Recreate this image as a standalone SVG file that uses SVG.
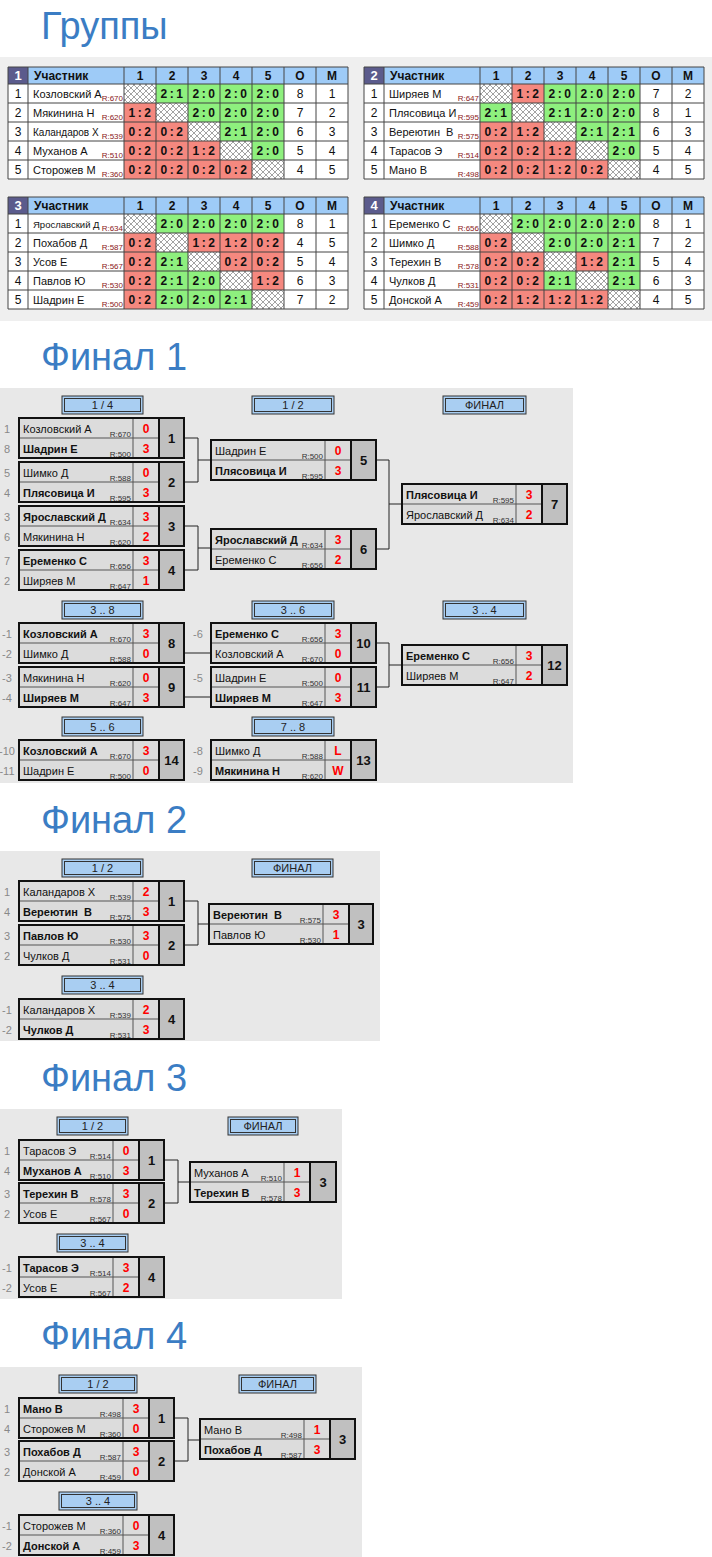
<svg xmlns="http://www.w3.org/2000/svg" width="712" height="1557" viewBox="0 0 712 1557">
<defs>
<pattern id="hatch" patternUnits="userSpaceOnUse" width="6" height="6">
<rect width="6" height="6" fill="#fff"/>
<path d="M0 0L6 6M6 0L0 6" stroke="#8c8c8c" stroke-width="0.8"/>
</pattern>
<style>
text{font-family:"Liberation Sans",Arial,sans-serif}
.ttl{font-size:38px;fill:#3b7dc4}
.g{fill:#8ef07e}
.r{fill:#f5887f}
.h{fill:url(#hatch)}
.grid{stroke:#444;stroke-width:1;fill:none}
.hd{font-size:12px;font-weight:bold;fill:#111}
.hn{font-size:13px;font-weight:bold;fill:#fff;text-anchor:middle}
.hc{font-size:12px;font-weight:bold;fill:#111;text-anchor:middle}
.tn{font-size:12px;fill:#111;text-anchor:middle}
.tx{font-size:11px;fill:#111}
.tr{font-size:8px;fill:#8b2020;text-anchor:end}
.gs{font-size:12px;font-weight:bold;fill:#111;text-anchor:middle;letter-spacing:2.5px}
.nm{fill:#dcdcdc}
.nb{fill:#c0c0c0}
.fr{fill:none;stroke:#111;stroke-width:2}
.ln{stroke:#555;stroke-width:1;fill:none}
.lb{stroke:#111;stroke-width:2;fill:none}
.nt{font-size:11px;fill:#111}
.b{font-weight:bold}
.rt{font-size:8px;fill:#333;text-anchor:end}
.sc{font-size:12px;font-weight:bold;fill:#f00;text-anchor:middle}
.mn{font-size:13px;font-weight:bold;fill:#111;text-anchor:middle}
.seed{font-size:11px;fill:#888;text-anchor:middle}
.lo{fill:#a9cef2;stroke:#333;stroke-width:1}
.li{fill:#a9cef2;stroke:#333;stroke-width:1}
.lt{font-size:11px;fill:#222;text-anchor:middle}
.con{fill:none;stroke:#222;stroke-width:1}
.pre{white-space:pre}
</style>
</defs>
<rect width="712" height="1557" fill="#fff"/>

<!-- Titles -->
<text class="ttl" x="41" y="39">Группы</text>
<text class="ttl" x="41" y="370">Финал 1</text>
<text class="ttl" x="41" y="833">Финал 2</text>
<text class="ttl" x="41" y="1091">Финал 3</text>
<text class="ttl" x="41" y="1349">Финал 4</text>

<!-- Panels -->
<rect x="0" y="57" width="712" height="264" fill="#efefef"/>
<rect x="0" y="388" width="573" height="395" fill="#e8e8e8"/>
<rect x="0" y="851" width="380" height="190" fill="#e8e8e8"/>
<rect x="0" y="1109" width="342" height="190" fill="#e8e8e8"/>
<rect x="0" y="1367" width="362" height="190" fill="#e8e8e8"/>

<!-- Group 1 -->
<g id="group-1" transform="translate(8,67)">
<rect width="340" height="112" fill="#fff"/>
<rect width="20" height="17" fill="#5b5b8c"/>
<rect x="20" width="320" height="17" fill="#9ecbf7"/>
<rect class="h" x="116" y="17" width="32" height="19"/><rect class="g" x="148" y="17" width="32" height="19"/><rect class="g" x="180" y="17" width="32" height="19"/><rect class="g" x="212" y="17" width="32" height="19"/><rect class="g" x="244" y="17" width="32" height="19"/>
<rect class="r" x="116" y="36" width="32" height="19"/><rect class="h" x="148" y="36" width="32" height="19"/><rect class="g" x="180" y="36" width="32" height="19"/><rect class="g" x="212" y="36" width="32" height="19"/><rect class="g" x="244" y="36" width="32" height="19"/>
<rect class="r" x="116" y="55" width="32" height="19"/><rect class="r" x="148" y="55" width="32" height="19"/><rect class="h" x="180" y="55" width="32" height="19"/><rect class="g" x="212" y="55" width="32" height="19"/><rect class="g" x="244" y="55" width="32" height="19"/>
<rect class="r" x="116" y="74" width="32" height="19"/><rect class="r" x="148" y="74" width="32" height="19"/><rect class="r" x="180" y="74" width="32" height="19"/><rect class="h" x="212" y="74" width="32" height="19"/><rect class="g" x="244" y="74" width="32" height="19"/>
<rect class="r" x="116" y="93" width="32" height="19"/><rect class="r" x="148" y="93" width="32" height="19"/><rect class="r" x="180" y="93" width="32" height="19"/><rect class="r" x="212" y="93" width="32" height="19"/><rect class="h" x="244" y="93" width="32" height="19"/>
<path class="grid" d="M0 0V112M20 0V112M116 0V112M148 0V112M180 0V112M212 0V112M244 0V112M276 0V112M308 0V112M340 0V112M0 0H340M0 17H340M0 36H340M0 55H340M0 74H340M0 93H340M0 112H340"/>
<text class="hn" x="10" y="13">1</text><text class="hd" x="26" y="13">Участник</text>
<text class="hc" x="132" y="13">1</text><text class="hc" x="164" y="13">2</text><text class="hc" x="196" y="13">3</text><text class="hc" x="228" y="13">4</text><text class="hc" x="260" y="13">5</text><text class="hc" x="292" y="13">О</text><text class="hc" x="324" y="13">М</text>
<text class="tn" x="10" y="31">1</text><text class="tx" x="25" y="31">Козловский А</text><text class="tr" x="115" y="34">R:670</text>
<text class="gs" x="165" y="31">2:1</text><text class="gs" x="197" y="31">2:0</text><text class="gs" x="229" y="31">2:0</text><text class="gs" x="261" y="31">2:0</text><text class="tn" x="292" y="31">8</text><text class="tn" x="324" y="31">1</text>
<text class="tn" x="10" y="50">2</text><text class="tx" x="25" y="50">Мякинина Н</text><text class="tr" x="115" y="53">R:620</text>
<text class="gs" x="133" y="50">1:2</text><text class="gs" x="197" y="50">2:0</text><text class="gs" x="229" y="50">2:0</text><text class="gs" x="261" y="50">2:0</text><text class="tn" x="292" y="50">7</text><text class="tn" x="324" y="50">2</text>
<text class="tn" x="10" y="69">3</text><text class="tx" x="25" y="69" style="font-size:10px">Каландаров Х</text><text class="tr" x="115" y="72">R:539</text>
<text class="gs" x="133" y="69">0:2</text><text class="gs" x="165" y="69">0:2</text><text class="gs" x="229" y="69">2:1</text><text class="gs" x="261" y="69">2:0</text><text class="tn" x="292" y="69">6</text><text class="tn" x="324" y="69">3</text>
<text class="tn" x="10" y="88">4</text><text class="tx" x="25" y="88">Муханов А</text><text class="tr" x="115" y="91">R:510</text>
<text class="gs" x="133" y="88">0:2</text><text class="gs" x="165" y="88">0:2</text><text class="gs" x="197" y="88">1:2</text><text class="gs" x="261" y="88">2:0</text><text class="tn" x="292" y="88">5</text><text class="tn" x="324" y="88">4</text>
<text class="tn" x="10" y="107">5</text><text class="tx" x="25" y="107">Сторожев М</text><text class="tr" x="115" y="110">R:360</text>
<text class="gs" x="133" y="107">0:2</text><text class="gs" x="165" y="107">0:2</text><text class="gs" x="197" y="107">0:2</text><text class="gs" x="229" y="107">0:2</text><text class="tn" x="292" y="107">4</text><text class="tn" x="324" y="107">5</text>
</g>

<!-- Group 2 -->
<g id="group-2" transform="translate(364,67)">
<rect width="340" height="112" fill="#fff"/>
<rect width="20" height="17" fill="#5b5b8c"/>
<rect x="20" width="320" height="17" fill="#9ecbf7"/>
<rect class="h" x="116" y="17" width="32" height="19"/><rect class="r" x="148" y="17" width="32" height="19"/><rect class="g" x="180" y="17" width="32" height="19"/><rect class="g" x="212" y="17" width="32" height="19"/><rect class="g" x="244" y="17" width="32" height="19"/>
<rect class="g" x="116" y="36" width="32" height="19"/><rect class="h" x="148" y="36" width="32" height="19"/><rect class="g" x="180" y="36" width="32" height="19"/><rect class="g" x="212" y="36" width="32" height="19"/><rect class="g" x="244" y="36" width="32" height="19"/>
<rect class="r" x="116" y="55" width="32" height="19"/><rect class="r" x="148" y="55" width="32" height="19"/><rect class="h" x="180" y="55" width="32" height="19"/><rect class="g" x="212" y="55" width="32" height="19"/><rect class="g" x="244" y="55" width="32" height="19"/>
<rect class="r" x="116" y="74" width="32" height="19"/><rect class="r" x="148" y="74" width="32" height="19"/><rect class="r" x="180" y="74" width="32" height="19"/><rect class="h" x="212" y="74" width="32" height="19"/><rect class="g" x="244" y="74" width="32" height="19"/>
<rect class="r" x="116" y="93" width="32" height="19"/><rect class="r" x="148" y="93" width="32" height="19"/><rect class="r" x="180" y="93" width="32" height="19"/><rect class="r" x="212" y="93" width="32" height="19"/><rect class="h" x="244" y="93" width="32" height="19"/>
<path class="grid" d="M0 0V112M20 0V112M116 0V112M148 0V112M180 0V112M212 0V112M244 0V112M276 0V112M308 0V112M340 0V112M0 0H340M0 17H340M0 36H340M0 55H340M0 74H340M0 93H340M0 112H340"/>
<text class="hn" x="10" y="13">2</text><text class="hd" x="26" y="13">Участник</text>
<text class="hc" x="132" y="13">1</text><text class="hc" x="164" y="13">2</text><text class="hc" x="196" y="13">3</text><text class="hc" x="228" y="13">4</text><text class="hc" x="260" y="13">5</text><text class="hc" x="292" y="13">О</text><text class="hc" x="324" y="13">М</text>
<text class="tn" x="10" y="31">1</text><text class="tx" x="25" y="31">Ширяев М</text><text class="tr" x="115" y="34">R:647</text>
<text class="gs" x="165" y="31">1:2</text><text class="gs" x="197" y="31">2:0</text><text class="gs" x="229" y="31">2:0</text><text class="gs" x="261" y="31">2:0</text><text class="tn" x="292" y="31">7</text><text class="tn" x="324" y="31">2</text>
<text class="tn" x="10" y="50">2</text><text class="tx" x="25" y="50">Плясовица И</text><text class="tr" x="115" y="53">R:595</text>
<text class="gs" x="133" y="50">2:1</text><text class="gs" x="197" y="50">2:1</text><text class="gs" x="229" y="50">2:0</text><text class="gs" x="261" y="50">2:0</text><text class="tn" x="292" y="50">8</text><text class="tn" x="324" y="50">1</text>
<text class="tn" x="10" y="69">3</text><text class="tx pre" x="25" y="69">Вереютин  В</text><text class="tr" x="115" y="72">R:575</text>
<text class="gs" x="133" y="69">0:2</text><text class="gs" x="165" y="69">1:2</text><text class="gs" x="229" y="69">2:1</text><text class="gs" x="261" y="69">2:1</text><text class="tn" x="292" y="69">6</text><text class="tn" x="324" y="69">3</text>
<text class="tn" x="10" y="88">4</text><text class="tx" x="25" y="88">Тарасов Э</text><text class="tr" x="115" y="91">R:514</text>
<text class="gs" x="133" y="88">0:2</text><text class="gs" x="165" y="88">0:2</text><text class="gs" x="197" y="88">1:2</text><text class="gs" x="261" y="88">2:0</text><text class="tn" x="292" y="88">5</text><text class="tn" x="324" y="88">4</text>
<text class="tn" x="10" y="107">5</text><text class="tx" x="25" y="107">Мано В</text><text class="tr" x="115" y="110">R:498</text>
<text class="gs" x="133" y="107">0:2</text><text class="gs" x="165" y="107">0:2</text><text class="gs" x="197" y="107">1:2</text><text class="gs" x="229" y="107">0:2</text><text class="tn" x="292" y="107">4</text><text class="tn" x="324" y="107">5</text>
</g>

<!-- Group 3 -->
<g id="group-3" transform="translate(8,197)">
<rect width="340" height="112" fill="#fff"/>
<rect width="20" height="17" fill="#5b5b8c"/>
<rect x="20" width="320" height="17" fill="#9ecbf7"/>
<rect class="h" x="116" y="17" width="32" height="19"/><rect class="g" x="148" y="17" width="32" height="19"/><rect class="g" x="180" y="17" width="32" height="19"/><rect class="g" x="212" y="17" width="32" height="19"/><rect class="g" x="244" y="17" width="32" height="19"/>
<rect class="r" x="116" y="36" width="32" height="19"/><rect class="h" x="148" y="36" width="32" height="19"/><rect class="r" x="180" y="36" width="32" height="19"/><rect class="r" x="212" y="36" width="32" height="19"/><rect class="r" x="244" y="36" width="32" height="19"/>
<rect class="r" x="116" y="55" width="32" height="19"/><rect class="g" x="148" y="55" width="32" height="19"/><rect class="h" x="180" y="55" width="32" height="19"/><rect class="r" x="212" y="55" width="32" height="19"/><rect class="r" x="244" y="55" width="32" height="19"/>
<rect class="r" x="116" y="74" width="32" height="19"/><rect class="g" x="148" y="74" width="32" height="19"/><rect class="g" x="180" y="74" width="32" height="19"/><rect class="h" x="212" y="74" width="32" height="19"/><rect class="r" x="244" y="74" width="32" height="19"/>
<rect class="r" x="116" y="93" width="32" height="19"/><rect class="g" x="148" y="93" width="32" height="19"/><rect class="g" x="180" y="93" width="32" height="19"/><rect class="g" x="212" y="93" width="32" height="19"/><rect class="h" x="244" y="93" width="32" height="19"/>
<path class="grid" d="M0 0V112M20 0V112M116 0V112M148 0V112M180 0V112M212 0V112M244 0V112M276 0V112M308 0V112M340 0V112M0 0H340M0 17H340M0 36H340M0 55H340M0 74H340M0 93H340M0 112H340"/>
<text class="hn" x="10" y="13">3</text><text class="hd" x="26" y="13">Участник</text>
<text class="hc" x="132" y="13">1</text><text class="hc" x="164" y="13">2</text><text class="hc" x="196" y="13">3</text><text class="hc" x="228" y="13">4</text><text class="hc" x="260" y="13">5</text><text class="hc" x="292" y="13">О</text><text class="hc" x="324" y="13">М</text>
<text class="tn" x="10" y="31">1</text><text class="tx" x="25" y="31" style="font-size:9.5px">Ярославский Д</text><text class="tr" x="115" y="34">R:634</text>
<text class="gs" x="165" y="31">2:0</text><text class="gs" x="197" y="31">2:0</text><text class="gs" x="229" y="31">2:0</text><text class="gs" x="261" y="31">2:0</text><text class="tn" x="292" y="31">8</text><text class="tn" x="324" y="31">1</text>
<text class="tn" x="10" y="50">2</text><text class="tx" x="25" y="50">Похабов Д</text><text class="tr" x="115" y="53">R:587</text>
<text class="gs" x="133" y="50">0:2</text><text class="gs" x="197" y="50">1:2</text><text class="gs" x="229" y="50">1:2</text><text class="gs" x="261" y="50">0:2</text><text class="tn" x="292" y="50">4</text><text class="tn" x="324" y="50">5</text>
<text class="tn" x="10" y="69">3</text><text class="tx" x="25" y="69">Усов Е</text><text class="tr" x="115" y="72">R:567</text>
<text class="gs" x="133" y="69">0:2</text><text class="gs" x="165" y="69">2:1</text><text class="gs" x="229" y="69">0:2</text><text class="gs" x="261" y="69">0:2</text><text class="tn" x="292" y="69">5</text><text class="tn" x="324" y="69">4</text>
<text class="tn" x="10" y="88">4</text><text class="tx" x="25" y="88">Павлов Ю</text><text class="tr" x="115" y="91">R:530</text>
<text class="gs" x="133" y="88">0:2</text><text class="gs" x="165" y="88">2:1</text><text class="gs" x="197" y="88">2:0</text><text class="gs" x="261" y="88">1:2</text><text class="tn" x="292" y="88">6</text><text class="tn" x="324" y="88">3</text>
<text class="tn" x="10" y="107">5</text><text class="tx" x="25" y="107">Шадрин Е</text><text class="tr" x="115" y="110">R:500</text>
<text class="gs" x="133" y="107">0:2</text><text class="gs" x="165" y="107">2:0</text><text class="gs" x="197" y="107">2:0</text><text class="gs" x="229" y="107">2:1</text><text class="tn" x="292" y="107">7</text><text class="tn" x="324" y="107">2</text>
</g>

<!-- Group 4 -->
<g id="group-4" transform="translate(364,197)">
<rect width="340" height="112" fill="#fff"/>
<rect width="20" height="17" fill="#5b5b8c"/>
<rect x="20" width="320" height="17" fill="#9ecbf7"/>
<rect class="h" x="116" y="17" width="32" height="19"/><rect class="g" x="148" y="17" width="32" height="19"/><rect class="g" x="180" y="17" width="32" height="19"/><rect class="g" x="212" y="17" width="32" height="19"/><rect class="g" x="244" y="17" width="32" height="19"/>
<rect class="r" x="116" y="36" width="32" height="19"/><rect class="h" x="148" y="36" width="32" height="19"/><rect class="g" x="180" y="36" width="32" height="19"/><rect class="g" x="212" y="36" width="32" height="19"/><rect class="g" x="244" y="36" width="32" height="19"/>
<rect class="r" x="116" y="55" width="32" height="19"/><rect class="r" x="148" y="55" width="32" height="19"/><rect class="h" x="180" y="55" width="32" height="19"/><rect class="r" x="212" y="55" width="32" height="19"/><rect class="g" x="244" y="55" width="32" height="19"/>
<rect class="r" x="116" y="74" width="32" height="19"/><rect class="r" x="148" y="74" width="32" height="19"/><rect class="g" x="180" y="74" width="32" height="19"/><rect class="h" x="212" y="74" width="32" height="19"/><rect class="g" x="244" y="74" width="32" height="19"/>
<rect class="r" x="116" y="93" width="32" height="19"/><rect class="r" x="148" y="93" width="32" height="19"/><rect class="r" x="180" y="93" width="32" height="19"/><rect class="r" x="212" y="93" width="32" height="19"/><rect class="h" x="244" y="93" width="32" height="19"/>
<path class="grid" d="M0 0V112M20 0V112M116 0V112M148 0V112M180 0V112M212 0V112M244 0V112M276 0V112M308 0V112M340 0V112M0 0H340M0 17H340M0 36H340M0 55H340M0 74H340M0 93H340M0 112H340"/>
<text class="hn" x="10" y="13">4</text><text class="hd" x="26" y="13">Участник</text>
<text class="hc" x="132" y="13">1</text><text class="hc" x="164" y="13">2</text><text class="hc" x="196" y="13">3</text><text class="hc" x="228" y="13">4</text><text class="hc" x="260" y="13">5</text><text class="hc" x="292" y="13">О</text><text class="hc" x="324" y="13">М</text>
<text class="tn" x="10" y="31">1</text><text class="tx" x="25" y="31">Еременко С</text><text class="tr" x="115" y="34">R:656</text>
<text class="gs" x="165" y="31">2:0</text><text class="gs" x="197" y="31">2:0</text><text class="gs" x="229" y="31">2:0</text><text class="gs" x="261" y="31">2:0</text><text class="tn" x="292" y="31">8</text><text class="tn" x="324" y="31">1</text>
<text class="tn" x="10" y="50">2</text><text class="tx" x="25" y="50">Шимко Д</text><text class="tr" x="115" y="53">R:588</text>
<text class="gs" x="133" y="50">0:2</text><text class="gs" x="197" y="50">2:0</text><text class="gs" x="229" y="50">2:0</text><text class="gs" x="261" y="50">2:1</text><text class="tn" x="292" y="50">7</text><text class="tn" x="324" y="50">2</text>
<text class="tn" x="10" y="69">3</text><text class="tx" x="25" y="69">Терехин В</text><text class="tr" x="115" y="72">R:578</text>
<text class="gs" x="133" y="69">0:2</text><text class="gs" x="165" y="69">0:2</text><text class="gs" x="229" y="69">1:2</text><text class="gs" x="261" y="69">2:1</text><text class="tn" x="292" y="69">5</text><text class="tn" x="324" y="69">4</text>
<text class="tn" x="10" y="88">4</text><text class="tx" x="25" y="88">Чулков Д</text><text class="tr" x="115" y="91">R:531</text>
<text class="gs" x="133" y="88">0:2</text><text class="gs" x="165" y="88">0:2</text><text class="gs" x="197" y="88">2:1</text><text class="gs" x="261" y="88">2:1</text><text class="tn" x="292" y="88">6</text><text class="tn" x="324" y="88">3</text>
<text class="tn" x="10" y="107">5</text><text class="tx" x="25" y="107">Донской А</text><text class="tr" x="115" y="110">R:459</text>
<text class="gs" x="133" y="107">0:2</text><text class="gs" x="165" y="107">1:2</text><text class="gs" x="197" y="107">1:2</text><text class="gs" x="229" y="107">1:2</text><text class="tn" x="292" y="107">4</text><text class="tn" x="324" y="107">5</text>
</g>

<!-- Connectors -->
<g id="connectors">
<path class="con" d="M184 438H198V482H184M198 460H211"/>
<path class="con" d="M184 526H198V570H184M198 548H211"/>
<path class="con" d="M376 460H389V549H376M389 504H402"/>
<path class="con" d="M184 653H211"/>
<path class="con" d="M184 697H211"/>
<path class="con" d="M376 643H389V687H376M389 665H402"/>
<path class="con" d="M184 901H198V945H184M198 924H209"/>
<path class="con" d="M164 1160H178V1203H164M178 1182H190"/>
<path class="con" d="M174 1418H188V1461H174M188 1440H200"/>
</g>

<!-- Round labels -->
<g id="labels">
<g transform="translate(62,396)"><rect class="lo" width="81" height="18"/><rect class="li" x="2.5" y="2.5" width="76" height="13"/><text class="lt" x="40.5" y="13">1 / 4</text></g>
<g transform="translate(252,396)"><rect class="lo" width="82" height="18"/><rect class="li" x="2.5" y="2.5" width="77" height="13"/><text class="lt" x="41" y="13">1 / 2</text></g>
<g transform="translate(443,396)"><rect class="lo" width="83" height="18"/><rect class="li" x="2.5" y="2.5" width="78" height="13"/><text class="lt" x="41.5" y="13">ФИНАЛ</text></g>
<g transform="translate(62,601)"><rect class="lo" width="81" height="18"/><rect class="li" x="2.5" y="2.5" width="76" height="13"/><text class="lt" x="40.5" y="13">3 .. 8</text></g>
<g transform="translate(252,601)"><rect class="lo" width="82" height="18"/><rect class="li" x="2.5" y="2.5" width="77" height="13"/><text class="lt" x="41" y="13">3 .. 6</text></g>
<g transform="translate(443,601)"><rect class="lo" width="83" height="18"/><rect class="li" x="2.5" y="2.5" width="78" height="13"/><text class="lt" x="41.5" y="13">3 .. 4</text></g>
<g transform="translate(62,717)"><rect class="lo" width="81" height="19"/><rect class="li" x="2.5" y="2.5" width="76" height="14"/><text class="lt" x="40.5" y="13.5">5 .. 6</text></g>
<g transform="translate(252,717)"><rect class="lo" width="82" height="19"/><rect class="li" x="2.5" y="2.5" width="77" height="14"/><text class="lt" x="41" y="13.5">7 .. 8</text></g>
<g transform="translate(62,859)"><rect class="lo" width="81" height="18"/><rect class="li" x="2.5" y="2.5" width="76" height="13"/><text class="lt" x="40.5" y="13">1 / 2</text></g>
<g transform="translate(252,859)"><rect class="lo" width="81" height="18"/><rect class="li" x="2.5" y="2.5" width="76" height="13"/><text class="lt" x="40.5" y="13">ФИНАЛ</text></g>
<g transform="translate(62,976)"><rect class="lo" width="81" height="18"/><rect class="li" x="2.5" y="2.5" width="76" height="13"/><text class="lt" x="40.5" y="13">3 .. 4</text></g>
<g transform="translate(57,1117)"><rect class="lo" width="71" height="18"/><rect class="li" x="2.5" y="2.5" width="66" height="13"/><text class="lt" x="35.5" y="13">1 / 2</text></g>
<g transform="translate(228,1117)"><rect class="lo" width="70" height="18"/><rect class="li" x="2.5" y="2.5" width="65" height="13"/><text class="lt" x="35" y="13">ФИНАЛ</text></g>
<g transform="translate(57,1234)"><rect class="lo" width="71" height="18"/><rect class="li" x="2.5" y="2.5" width="66" height="13"/><text class="lt" x="35.5" y="13">3 .. 4</text></g>
<g transform="translate(59,1375)"><rect class="lo" width="78" height="18"/><rect class="li" x="2.5" y="2.5" width="73" height="13"/><text class="lt" x="39" y="13">1 / 2</text></g>
<g transform="translate(239,1375)"><rect class="lo" width="77" height="18"/><rect class="li" x="2.5" y="2.5" width="72" height="13"/><text class="lt" x="38.5" y="13">ФИНАЛ</text></g>
<g transform="translate(59,1492)"><rect class="lo" width="78" height="18"/><rect class="li" x="2.5" y="2.5" width="73" height="13"/><text class="lt" x="39" y="13">3 .. 4</text></g>
</g>

<!-- Seeds -->
<g id="seeds">
<text class="seed" x="7" y="433">1</text><text class="seed" x="7" y="453">8</text>
<text class="seed" x="7" y="477">5</text><text class="seed" x="7" y="497">4</text>
<text class="seed" x="7" y="521">3</text><text class="seed" x="7" y="541">6</text>
<text class="seed" x="7" y="565">7</text><text class="seed" x="7" y="585">2</text>
<text class="seed" x="7" y="638">-1</text><text class="seed" x="7" y="658">-2</text>
<text class="seed" x="7" y="682">-3</text><text class="seed" x="7" y="702">-4</text>
<text class="seed" x="7" y="755">-10</text><text class="seed" x="7" y="775">-11</text>
<text class="seed" x="198" y="638">-6</text><text class="seed" x="198" y="682">-5</text>
<text class="seed" x="198" y="755">-8</text><text class="seed" x="198" y="775">-9</text>
<text class="seed" x="7" y="896">1</text><text class="seed" x="7" y="916">4</text>
<text class="seed" x="7" y="940">3</text><text class="seed" x="7" y="960">2</text>
<text class="seed" x="7" y="1014">-1</text><text class="seed" x="7" y="1034">-2</text>
<text class="seed" x="7" y="1155">1</text><text class="seed" x="7" y="1175">4</text>
<text class="seed" x="7" y="1198">3</text><text class="seed" x="7" y="1218">2</text>
<text class="seed" x="7" y="1272">-1</text><text class="seed" x="7" y="1292">-2</text>
<text class="seed" x="7" y="1413">1</text><text class="seed" x="7" y="1433">4</text>
<text class="seed" x="7" y="1456">3</text><text class="seed" x="7" y="1476">2</text>
<text class="seed" x="7" y="1530">-1</text><text class="seed" x="7" y="1550">-2</text>
</g>

<!-- Final 1 matches -->
<g id="f1-m1" transform="translate(19,418)">
<rect class="nm" width="140" height="40"/><rect class="nb" x="140" width="25" height="40"/><path class="ln" d="M0 20H140M114 0V40"/><path class="lb" d="M140 0V40"/><rect class="fr" width="165" height="40"/>
<text class="nt" x="4" y="15">Козловский А</text><text class="rt" x="112" y="19">R:670</text><text class="sc" x="127" y="15">0</text>
<text class="nt b" x="4" y="35">Шадрин Е</text><text class="rt" x="112" y="39">R:500</text><text class="sc" x="127" y="35">3</text>
<text class="mn" x="152.5" y="25">1</text></g>
<g id="f1-m2" transform="translate(19,462)">
<rect class="nm" width="140" height="40"/><rect class="nb" x="140" width="25" height="40"/><path class="ln" d="M0 20H140M114 0V40"/><path class="lb" d="M140 0V40"/><rect class="fr" width="165" height="40"/>
<text class="nt" x="4" y="15">Шимко Д</text><text class="rt" x="112" y="19">R:588</text><text class="sc" x="127" y="15">0</text>
<text class="nt b" x="4" y="35">Плясовица И</text><text class="rt" x="112" y="39">R:595</text><text class="sc" x="127" y="35">3</text>
<text class="mn" x="152.5" y="25">2</text></g>
<g id="f1-m3" transform="translate(19,506)">
<rect class="nm" width="140" height="40"/><rect class="nb" x="140" width="25" height="40"/><path class="ln" d="M0 20H140M114 0V40"/><path class="lb" d="M140 0V40"/><rect class="fr" width="165" height="40"/>
<text class="nt b" x="4" y="15">Ярославский Д</text><text class="rt" x="112" y="19">R:634</text><text class="sc" x="127" y="15">3</text>
<text class="nt" x="4" y="35">Мякинина Н</text><text class="rt" x="112" y="39">R:620</text><text class="sc" x="127" y="35">2</text>
<text class="mn" x="152.5" y="25">3</text></g>
<g id="f1-m4" transform="translate(19,550)">
<rect class="nm" width="140" height="40"/><rect class="nb" x="140" width="25" height="40"/><path class="ln" d="M0 20H140M114 0V40"/><path class="lb" d="M140 0V40"/><rect class="fr" width="165" height="40"/>
<text class="nt b" x="4" y="15">Еременко С</text><text class="rt" x="112" y="19">R:656</text><text class="sc" x="127" y="15">3</text>
<text class="nt" x="4" y="35">Ширяев М</text><text class="rt" x="112" y="39">R:647</text><text class="sc" x="127" y="35">1</text>
<text class="mn" x="152.5" y="25">4</text></g>
<g id="f1-m5" transform="translate(211,440)">
<rect class="nm" width="140" height="40"/><rect class="nb" x="140" width="25" height="40"/><path class="ln" d="M0 20H140M114 0V40"/><path class="lb" d="M140 0V40"/><rect class="fr" width="165" height="40"/>
<text class="nt" x="4" y="15">Шадрин Е</text><text class="rt" x="112" y="19">R:500</text><text class="sc" x="127" y="15">0</text>
<text class="nt b" x="4" y="35">Плясовица И</text><text class="rt" x="112" y="39">R:595</text><text class="sc" x="127" y="35">3</text>
<text class="mn" x="152.5" y="25">5</text></g>
<g id="f1-m6" transform="translate(211,529)">
<rect class="nm" width="140" height="40"/><rect class="nb" x="140" width="25" height="40"/><path class="ln" d="M0 20H140M114 0V40"/><path class="lb" d="M140 0V40"/><rect class="fr" width="165" height="40"/>
<text class="nt b" x="4" y="15">Ярославский Д</text><text class="rt" x="112" y="19">R:634</text><text class="sc" x="127" y="15">3</text>
<text class="nt" x="4" y="35">Еременко С</text><text class="rt" x="112" y="39">R:656</text><text class="sc" x="127" y="35">2</text>
<text class="mn" x="152.5" y="25">6</text></g>
<g id="f1-m7" transform="translate(402,484)">
<rect class="nm" width="140" height="40"/><rect class="nb" x="140" width="25" height="40"/><path class="ln" d="M0 20H140M114 0V40"/><path class="lb" d="M140 0V40"/><rect class="fr" width="165" height="40"/>
<text class="nt b" x="4" y="15">Плясовица И</text><text class="rt" x="112" y="19">R:595</text><text class="sc" x="127" y="15">3</text>
<text class="nt" x="4" y="35">Ярославский Д</text><text class="rt" x="112" y="39">R:634</text><text class="sc" x="127" y="35">2</text>
<text class="mn" x="152.5" y="25">7</text></g>
<g id="f1-m8" transform="translate(19,623)">
<rect class="nm" width="140" height="40"/><rect class="nb" x="140" width="25" height="40"/><path class="ln" d="M0 20H140M114 0V40"/><path class="lb" d="M140 0V40"/><rect class="fr" width="165" height="40"/>
<text class="nt b" x="4" y="15">Козловский А</text><text class="rt" x="112" y="19">R:670</text><text class="sc" x="127" y="15">3</text>
<text class="nt" x="4" y="35">Шимко Д</text><text class="rt" x="112" y="39">R:588</text><text class="sc" x="127" y="35">0</text>
<text class="mn" x="152.5" y="25">8</text></g>
<g id="f1-m9" transform="translate(19,667)">
<rect class="nm" width="140" height="40"/><rect class="nb" x="140" width="25" height="40"/><path class="ln" d="M0 20H140M114 0V40"/><path class="lb" d="M140 0V40"/><rect class="fr" width="165" height="40"/>
<text class="nt" x="4" y="15">Мякинина Н</text><text class="rt" x="112" y="19">R:620</text><text class="sc" x="127" y="15">0</text>
<text class="nt b" x="4" y="35">Ширяев М</text><text class="rt" x="112" y="39">R:647</text><text class="sc" x="127" y="35">3</text>
<text class="mn" x="152.5" y="25">9</text></g>
<g id="f1-m10" transform="translate(211,623)">
<rect class="nm" width="140" height="40"/><rect class="nb" x="140" width="25" height="40"/><path class="ln" d="M0 20H140M114 0V40"/><path class="lb" d="M140 0V40"/><rect class="fr" width="165" height="40"/>
<text class="nt b" x="4" y="15">Еременко С</text><text class="rt" x="112" y="19">R:656</text><text class="sc" x="127" y="15">3</text>
<text class="nt" x="4" y="35">Козловский А</text><text class="rt" x="112" y="39">R:670</text><text class="sc" x="127" y="35">0</text>
<text class="mn" x="152.5" y="25">10</text></g>
<g id="f1-m11" transform="translate(211,667)">
<rect class="nm" width="140" height="40"/><rect class="nb" x="140" width="25" height="40"/><path class="ln" d="M0 20H140M114 0V40"/><path class="lb" d="M140 0V40"/><rect class="fr" width="165" height="40"/>
<text class="nt" x="4" y="15">Шадрин Е</text><text class="rt" x="112" y="19">R:500</text><text class="sc" x="127" y="15">0</text>
<text class="nt b" x="4" y="35">Ширяев М</text><text class="rt" x="112" y="39">R:647</text><text class="sc" x="127" y="35">3</text>
<text class="mn" x="152.5" y="25">11</text></g>
<g id="f1-m12" transform="translate(402,645)">
<rect class="nm" width="140" height="40"/><rect class="nb" x="140" width="25" height="40"/><path class="ln" d="M0 20H140M114 0V40"/><path class="lb" d="M140 0V40"/><rect class="fr" width="165" height="40"/>
<text class="nt b" x="4" y="15">Еременко С</text><text class="rt" x="112" y="19">R:656</text><text class="sc" x="127" y="15">3</text>
<text class="nt" x="4" y="35">Ширяев М</text><text class="rt" x="112" y="39">R:647</text><text class="sc" x="127" y="35">2</text>
<text class="mn" x="152.5" y="25">12</text></g>
<g id="f1-m14" transform="translate(19,740)">
<rect class="nm" width="140" height="40"/><rect class="nb" x="140" width="25" height="40"/><path class="ln" d="M0 20H140M114 0V40"/><path class="lb" d="M140 0V40"/><rect class="fr" width="165" height="40"/>
<text class="nt b" x="4" y="15">Козловский А</text><text class="rt" x="112" y="19">R:670</text><text class="sc" x="127" y="15">3</text>
<text class="nt" x="4" y="35">Шадрин Е</text><text class="rt" x="112" y="39">R:500</text><text class="sc" x="127" y="35">0</text>
<text class="mn" x="152.5" y="25">14</text></g>
<g id="f1-m13" transform="translate(211,740)">
<rect class="nm" width="140" height="40"/><rect class="nb" x="140" width="25" height="40"/><path class="ln" d="M0 20H140M114 0V40"/><path class="lb" d="M140 0V40"/><rect class="fr" width="165" height="40"/>
<text class="nt" x="4" y="15">Шимко Д</text><text class="rt" x="112" y="19">R:588</text><text class="sc" x="127" y="15">L</text>
<text class="nt b" x="4" y="35">Мякинина Н</text><text class="rt" x="112" y="39">R:620</text><text class="sc" x="127" y="35">W</text>
<text class="mn" x="152.5" y="25">13</text></g>

<!-- Final 2 matches -->
<g id="f2-m1" transform="translate(19,881)">
<rect class="nm" width="140" height="40"/><rect class="nb" x="140" width="25" height="40"/><path class="ln" d="M0 20H140M114 0V40"/><path class="lb" d="M140 0V40"/><rect class="fr" width="165" height="40"/>
<text class="nt" x="4" y="15">Каландаров Х</text><text class="rt" x="112" y="19">R:539</text><text class="sc" x="127" y="15">2</text>
<text class="nt b pre" x="4" y="35">Вереютин  В</text><text class="rt" x="112" y="39">R:575</text><text class="sc" x="127" y="35">3</text>
<text class="mn" x="152.5" y="25">1</text></g>
<g id="f2-m2" transform="translate(19,925)">
<rect class="nm" width="140" height="40"/><rect class="nb" x="140" width="25" height="40"/><path class="ln" d="M0 20H140M114 0V40"/><path class="lb" d="M140 0V40"/><rect class="fr" width="165" height="40"/>
<text class="nt b" x="4" y="15">Павлов Ю</text><text class="rt" x="112" y="19">R:530</text><text class="sc" x="127" y="15">3</text>
<text class="nt" x="4" y="35">Чулков Д</text><text class="rt" x="112" y="39">R:531</text><text class="sc" x="127" y="35">0</text>
<text class="mn" x="152.5" y="25">2</text></g>
<g id="f2-m3" transform="translate(209,904)">
<rect class="nm" width="140" height="40"/><rect class="nb" x="140" width="24" height="40"/><path class="ln" d="M0 20H140M114 0V40"/><path class="lb" d="M140 0V40"/><rect class="fr" width="164" height="40"/>
<text class="nt b pre" x="4" y="15">Вереютин  В</text><text class="rt" x="112" y="19">R:575</text><text class="sc" x="127" y="15">3</text>
<text class="nt" x="4" y="35">Павлов Ю</text><text class="rt" x="112" y="39">R:530</text><text class="sc" x="127" y="35">1</text>
<text class="mn" x="152" y="25">3</text></g>
<g id="f2-m4" transform="translate(19,999)">
<rect class="nm" width="140" height="40"/><rect class="nb" x="140" width="25" height="40"/><path class="ln" d="M0 20H140M114 0V40"/><path class="lb" d="M140 0V40"/><rect class="fr" width="165" height="40"/>
<text class="nt" x="4" y="15">Каландаров Х</text><text class="rt" x="112" y="19">R:539</text><text class="sc" x="127" y="15">2</text>
<text class="nt b" x="4" y="35">Чулков Д</text><text class="rt" x="112" y="39">R:531</text><text class="sc" x="127" y="35">3</text>
<text class="mn" x="152.5" y="25">4</text></g>

<!-- Final 3 matches -->
<g id="f3-m1" transform="translate(19,1140)">
<rect class="nm" width="120" height="40"/><rect class="nb" x="120" width="25" height="40"/><path class="ln" d="M0 20H120M94 0V40"/><path class="lb" d="M120 0V40"/><rect class="fr" width="145" height="40"/>
<text class="nt" x="4" y="15">Тарасов Э</text><text class="rt" x="92" y="19">R:514</text><text class="sc" x="107" y="15">0</text>
<text class="nt b" x="4" y="35">Муханов А</text><text class="rt" x="92" y="39">R:510</text><text class="sc" x="107" y="35">3</text>
<text class="mn" x="132.5" y="25">1</text></g>
<g id="f3-m2" transform="translate(19,1183)">
<rect class="nm" width="120" height="40"/><rect class="nb" x="120" width="25" height="40"/><path class="ln" d="M0 20H120M94 0V40"/><path class="lb" d="M120 0V40"/><rect class="fr" width="145" height="40"/>
<text class="nt b" x="4" y="15">Терехин В</text><text class="rt" x="92" y="19">R:578</text><text class="sc" x="107" y="15">3</text>
<text class="nt" x="4" y="35">Усов Е</text><text class="rt" x="92" y="39">R:567</text><text class="sc" x="107" y="35">0</text>
<text class="mn" x="132.5" y="25">2</text></g>
<g id="f3-m3" transform="translate(190,1162)">
<rect class="nm" width="120" height="40"/><rect class="nb" x="120" width="26" height="40"/><path class="ln" d="M0 20H120M94 0V40"/><path class="lb" d="M120 0V40"/><rect class="fr" width="146" height="40"/>
<text class="nt" x="4" y="15">Муханов А</text><text class="rt" x="92" y="19">R:510</text><text class="sc" x="107" y="15">1</text>
<text class="nt b" x="4" y="35">Терехин В</text><text class="rt" x="92" y="39">R:578</text><text class="sc" x="107" y="35">3</text>
<text class="mn" x="133" y="25">3</text></g>
<g id="f3-m4" transform="translate(19,1257)">
<rect class="nm" width="120" height="40"/><rect class="nb" x="120" width="25" height="40"/><path class="ln" d="M0 20H120M94 0V40"/><path class="lb" d="M120 0V40"/><rect class="fr" width="145" height="40"/>
<text class="nt b" x="4" y="15">Тарасов Э</text><text class="rt" x="92" y="19">R:514</text><text class="sc" x="107" y="15">3</text>
<text class="nt" x="4" y="35">Усов Е</text><text class="rt" x="92" y="39">R:567</text><text class="sc" x="107" y="35">2</text>
<text class="mn" x="132.5" y="25">4</text></g>

<!-- Final 4 matches -->
<g id="f4-m1" transform="translate(19,1398)">
<rect class="nm" width="130" height="40"/><rect class="nb" x="130" width="25" height="40"/><path class="ln" d="M0 20H130M104 0V40"/><path class="lb" d="M130 0V40"/><rect class="fr" width="155" height="40"/>
<text class="nt b" x="4" y="15">Мано В</text><text class="rt" x="102" y="19">R:498</text><text class="sc" x="117" y="15">3</text>
<text class="nt" x="4" y="35">Сторожев М</text><text class="rt" x="102" y="39">R:360</text><text class="sc" x="117" y="35">0</text>
<text class="mn" x="142.5" y="25">1</text></g>
<g id="f4-m2" transform="translate(19,1441)">
<rect class="nm" width="130" height="40"/><rect class="nb" x="130" width="25" height="40"/><path class="ln" d="M0 20H130M104 0V40"/><path class="lb" d="M130 0V40"/><rect class="fr" width="155" height="40"/>
<text class="nt b" x="4" y="15">Похабов Д</text><text class="rt" x="102" y="19">R:587</text><text class="sc" x="117" y="15">3</text>
<text class="nt" x="4" y="35">Донской А</text><text class="rt" x="102" y="39">R:459</text><text class="sc" x="117" y="35">0</text>
<text class="mn" x="142.5" y="25">2</text></g>
<g id="f4-m3" transform="translate(200,1419)">
<rect class="nm" width="130" height="40"/><rect class="nb" x="130" width="25" height="40"/><path class="ln" d="M0 20H130M104 0V40"/><path class="lb" d="M130 0V40"/><rect class="fr" width="155" height="40"/>
<text class="nt" x="4" y="15">Мано В</text><text class="rt" x="102" y="19">R:498</text><text class="sc" x="117" y="15">1</text>
<text class="nt b" x="4" y="35">Похабов Д</text><text class="rt" x="102" y="39">R:587</text><text class="sc" x="117" y="35">3</text>
<text class="mn" x="142.5" y="25">3</text></g>
<g id="f4-m4" transform="translate(19,1515)">
<rect class="nm" width="130" height="40"/><rect class="nb" x="130" width="25" height="40"/><path class="ln" d="M0 20H130M104 0V40"/><path class="lb" d="M130 0V40"/><rect class="fr" width="155" height="40"/>
<text class="nt" x="4" y="15">Сторожев М</text><text class="rt" x="102" y="19">R:360</text><text class="sc" x="117" y="15">0</text>
<text class="nt b" x="4" y="35">Донской А</text><text class="rt" x="102" y="39">R:459</text><text class="sc" x="117" y="35">3</text>
<text class="mn" x="142.5" y="25">4</text></g>
</svg>
